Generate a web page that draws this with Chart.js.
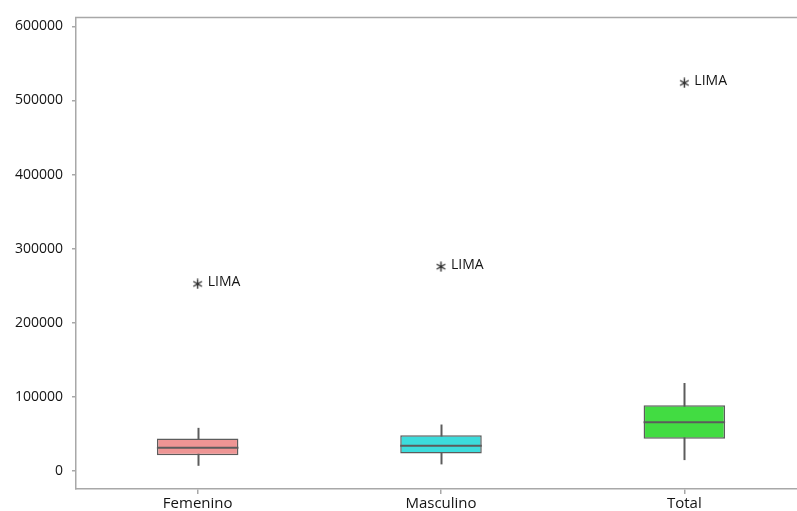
<!DOCTYPE html>
<html>
<head>
<meta charset="utf-8">
<title>Box plot</title>
<script src="https://cdn.jsdelivr.net/npm/chart.js@4.4.1/dist/chart.umd.min.js"></script>
<style>
  html, body { margin: 0; padding: 0; background: #fff; overflow: hidden; }
  #wrap { width: 797px; height: 511px; overflow: hidden; position: relative; }
  canvas { display: block; }
</style>
</head>
<body>
<div id="wrap"><canvas id="chart" width="812" height="511"></canvas></div>
<script>
// Groups shown on the horizontal axis
const categories = ['Femenino', 'Masculino', 'Total'];

// Five-number summaries per group
const whiskerLow  = [7100, 9000, 14800];
const q1          = [21500, 23800, 43500];
const median      = [31300, 34000, 65900];
const q3          = [44000, 48400, 88800];
const whiskerHigh = [58300, 62800, 118800];

// Outlying values and their names
const outliers      = [252500, 275800, 523700];
const outlierLabels = ['LIMA', 'LIMA', 'LIMA'];

// Y axis tick values
const yTicks = [0, 100000, 200000, 300000, 400000, 500000, 600000];

const boxColors = ['#EE9594', '#3CDCDC', '#42DC42'];
const lineColor = '#5c5c5c';
const axisColor = '#a8a8a8';
const textColor = '#141414';
const fontFamily = '"Open Sans", "DejaVu Sans", sans-serif';

// Six-spoke asterisk used as the outlier marker
function makeAsterisk(size, color) {
  const c = document.createElement('canvas');
  c.width = size; c.height = size;
  const g = c.getContext('2d');
  g.strokeStyle = color;
  g.lineWidth = 1.4;
  const r = size / 2 - 0.5;
  const cx = size / 2, cy = size / 2;
  g.beginPath();
  for (let k = 0; k < 3; k++) {
    const a = Math.PI / 2 + k * Math.PI / 3;
    g.moveTo(cx + r * Math.cos(a), cy + r * Math.sin(a));
    g.lineTo(cx - r * Math.cos(a), cy - r * Math.sin(a));
  }
  g.stroke();
  return c;
}
const asterisk = makeAsterisk(11, '#2e2e2e');

const boxPlugin = {
  id: 'boxWhiskers',
  beforeDatasetsDraw(chart) {
    const ctx = chart.ctx;
    const x = chart.scales.x, y = chart.scales.y;
    ctx.save();
    ctx.strokeStyle = lineColor;
    ctx.lineWidth = 2;
    categories.forEach((c, i) => {
      const px = Math.round(x.getPixelForValue(i)) + 0.5;
      ctx.beginPath();
      ctx.moveTo(px, y.getPixelForValue(whiskerLow[i]));
      ctx.lineTo(px, y.getPixelForValue(whiskerHigh[i]));
      ctx.stroke();
    });
    ctx.restore();
  },
  afterDatasetsDraw(chart) {
    const ctx = chart.ctx;
    const y = chart.scales.y;
    const meta = chart.getDatasetMeta(0);
    ctx.save();
    ctx.strokeStyle = lineColor;
    ctx.lineWidth = 2;
    meta.data.forEach((bar, i) => {
      const half = bar.width / 2;
      const py = y.getPixelForValue(median[i]);
      ctx.beginPath();
      ctx.moveTo(bar.x - half, py);
      ctx.lineTo(bar.x + half, py);
      ctx.stroke();
    });
    // outlier names
    const pts = chart.getDatasetMeta(1).data;
    ctx.fillStyle = textColor;
    ctx.font = '14px ' + fontFamily;
    ctx.textBaseline = 'middle';
    ctx.textAlign = 'left';
    pts.forEach((p, i) => {
      ctx.fillText(outlierLabels[i], p.x + 10, p.y - 2);
    });
    // frame line along the top of the plot
    const a = chart.chartArea;
    ctx.strokeStyle = axisColor;
    ctx.lineWidth = 1.5;
    ctx.beginPath();
    ctx.moveTo(a.left - 1, a.top);
    ctx.lineTo(a.right + 10, a.top);
    ctx.stroke();
    ctx.restore();
  }
};

new Chart(document.getElementById('chart'), {
  data: {
    labels: categories,
    datasets: [
      {
        type: 'bar',
        label: 'Caja',
        data: categories.map((c, i) => [q1[i], q3[i]]),
        backgroundColor: boxColors,
        borderColor: lineColor,
        borderWidth: 1.5,
        borderSkipped: false,
        barPercentage: 0.335,
        categoryPercentage: 1.0
      },
      {
        type: 'line',
        label: 'Atípicos',
        data: outliers,
        showLine: false,
        pointStyle: asterisk,
        pointRadius: 5,
        pointHoverRadius: 5
      }
    ]
  },
  options: {
    responsive: false,
    animation: false,
    devicePixelRatio: 1,
    layout: { padding: { top: 16, right: 1, bottom: 0, left: 0 } },
    plugins: {
      legend: { display: false },
      tooltip: { enabled: false }
    },
    scales: {
      x: {
        type: 'category',
        offset: true,
        grid: {
          display: true,
          offset: false,
          drawOnChartArea: false,
          drawTicks: true,
          tickLength: 5,
          color: axisColor,
          lineWidth: 1.5
        },
        border: { display: true, color: axisColor, width: 1.5 },
        ticks: {
          color: textColor,
          font: { family: fontFamily, size: 15 },
          padding: 1,
          maxRotation: 0
        },
        afterFit(scale) { scale.height = 22; }
      },
      y: {
        type: 'linear',
        min: -24200,
        max: 612100,
        afterBuildTicks(scale) {
          scale.ticks = yTicks.map(v => ({ value: v }));
        },
        grid: {
          display: true,
          drawOnChartArea: false,
          drawTicks: true,
          tickLength: 4,
          color: axisColor,
          lineWidth: 1.5
        },
        border: { display: true, color: axisColor, width: 1.5 },
        ticks: {
          color: textColor,
          font: { family: fontFamily, size: 14 },
          padding: 9,
          callback: v => String(v)
        },
        afterFit(scale) { scale.width = 76; }
      }
    }
  },
  plugins: [boxPlugin]
});
</script>
</body>
</html>
